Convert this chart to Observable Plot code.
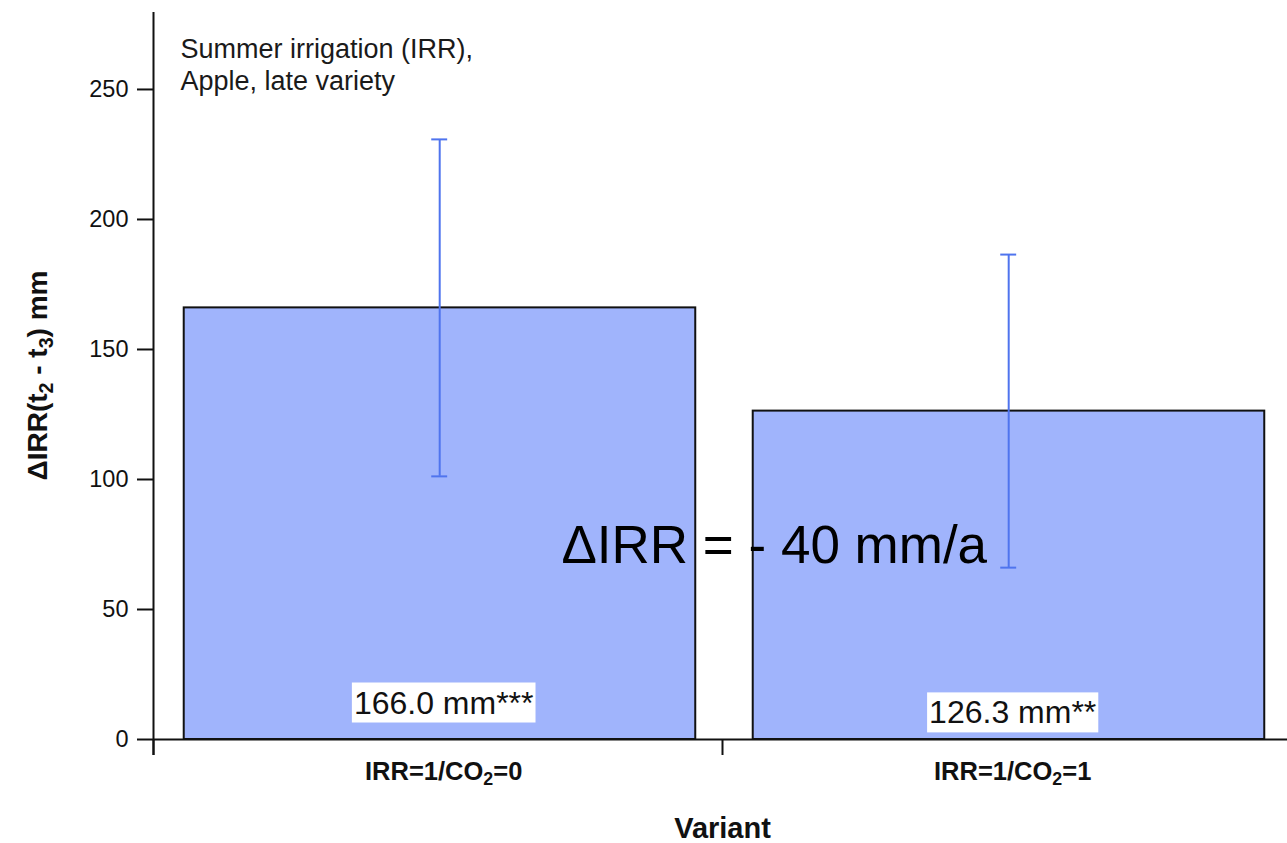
<!DOCTYPE html>
<html><head><meta charset="utf-8">
<script src="https://cdn.jsdelivr.net/npm/d3@7"></script>
<script src="https://cdn.jsdelivr.net/npm/@observablehq/plot@0.6"></script>
<style>body{margin:0;background:#fff}</style>
</head><body><div id="chart"></div>
<script>
const variants = ["IRR=1/CO₂=0", "IRR=1/CO₂=1"];
const means = [166.0, 126.3];
const errLow = [101.2, 66.1];
const errHigh = [230.8, 186.5];
const valueLabels = ["166.0 mm***", "126.3 mm**"];
const yTicks = [0, 50, 100, 150, 200, 250];
const xBoundaryTicks = [0, 1, 2];
const yLabel = "ΔIRR(t₂ - t₃) mm";
const xLabel = "Variant";
const noteText = "Summer irrigation (IRR),\nApple, late variety";
const deltaNote = "ΔIRR = - 40 mm/a";

const rows = variants.map((v, i) => ({variant: v, i, mean: means[i], lo: errLow[i], hi: errHigh[i], label: valueLabels[i]}));

const font = "'Liberation Sans', Arial, sans-serif";
const yMin = -6.15, yMax = 279.6;
const ink = "#111";
const errColor = "#4f74ee";

const plot = Plot.plot({
  width: 1287, height: 843,
  marginTop: 12, marginRight: 0, marginBottom: 88, marginLeft: 153,
  style: {fontFamily: font, background: "#fff", overflow: "visible"},
  x: {type: "linear", domain: [0, 2], range: [153, 1291], axis: null},
  y: {domain: [yMin, yMax], axis: null},
  marks: [
    Plot.rect(rows, {x1: d => d.i + 0.054, x2: d => d.i + 0.953, y1: 0, y2: "mean", fill: "#a0b4fc", stroke: ink, strokeWidth: 2}),
    Plot.ruleX(rows, {x: d => d.i + 0.503, y1: "lo", y2: "hi", stroke: errColor, strokeWidth: 2}),
    Plot.ruleY(rows, {y: "hi", x1: d => d.i + 0.489, x2: d => d.i + 0.517, stroke: errColor, strokeWidth: 2}),
    Plot.ruleY(rows, {y: "lo", x1: d => d.i + 0.489, x2: d => d.i + 0.517, stroke: errColor, strokeWidth: 2}),
    Plot.ruleX([0], {y1: yMin, y2: yMax, stroke: ink, strokeWidth: 2}),
    Plot.ruleY([0], {x1: 0, x2: 2, stroke: ink, strokeWidth: 2}),
    Plot.ruleX(xBoundaryTicks, {x: d => d, y1: 0, y2: yMin, stroke: ink, strokeWidth: 2}),
    Plot.axisY({ticks: yTicks, tickSize: 16, tickPadding: 9, fontSize: 23.5, strokeWidth: 2, color: ink, label: null, tickFormat: d => String(d)}),
    Plot.text(rows, {x: d => d.i + 0.51, y: d => d.i === 0 ? 10 : 6.2, text: "label", fontSize: 32, lineAnchor: "bottom", fill: ink, className: "vlabel"}),
    Plot.text(rows, {x: d => d.i + 0.51, y: 0, dy: 32, text: "variant", fontSize: 25.5, fontWeight: "bold", lineAnchor: "middle", fill: ink, className: "subs"}),
    Plot.text([xLabel], {x: () => 1, y: () => 0, dy: 89, text: d => d, fontSize: 29, fontWeight: "bold", lineAnchor: "middle", fill: ink}),
    Plot.text([yLabel], {frameAnchor: "left", rotate: -90, dx: -115, dy: -8.5, text: d => d, fontSize: 28, fontWeight: "bold", lineAnchor: "middle", textAnchor: "middle", fill: ink, className: "subs"}),
    Plot.text([noteText], {frameAnchor: "top-left", dx: 27, dy: 22.5, text: d => d, fontSize: 27, lineHeight: 1.2, lineAnchor: "top", textAnchor: "start", fill: "#1a1a1a"}),
    Plot.text([deltaNote], {x: () => 1.091, y: () => 67.7, text: d => d, fontSize: 53, lineAnchor: "bottom", fill: "#000"})
  ]
});
document.getElementById("chart").appendChild(plot);

// real subscripts (₂, ₃) drawn as smaller lowered digits
const subMap = {"₂": "2", "₃": "3"};
d3.select(plot).selectAll("g.subs text").each(function() {
  const s = this.textContent;
  const el = d3.select(this);
  el.text(null);
  // split into runs of normal / subscript characters
  const runs = [];
  for (const ch of s) {
    const sub = !!subMap[ch];
    const c = sub ? subMap[ch] : ch;
    if (runs.length && runs[runs.length - 1].sub === sub) runs[runs.length - 1].t += c;
    else runs.push({sub, t: c});
  }
  let afterSub = false;
  for (const r of runs) {
    const t = el.append("tspan").text(r.t);
    if (r.sub) { t.attr("font-size", "70%").attr("dy", "0.3em"); afterSub = true; }
    else if (afterSub) { t.attr("dy", "-0.21em"); afterSub = false; }
  }
});

// white boxes behind the value labels
d3.select(plot).selectAll("g.vlabel text").each(function() {
  const b = this.getBBox();
  const padX = 2, padY = 3;
  d3.select(this.parentNode).insert("rect", () => this)
    .attr("x", b.x - padX).attr("y", b.y - padY + 1)
    .attr("width", b.width + 2 * padX).attr("height", b.height + 2 * padY - 2)
    .attr("transform", this.getAttribute("transform"))
    .attr("fill", "#fff");
});
</script>
</body></html>
